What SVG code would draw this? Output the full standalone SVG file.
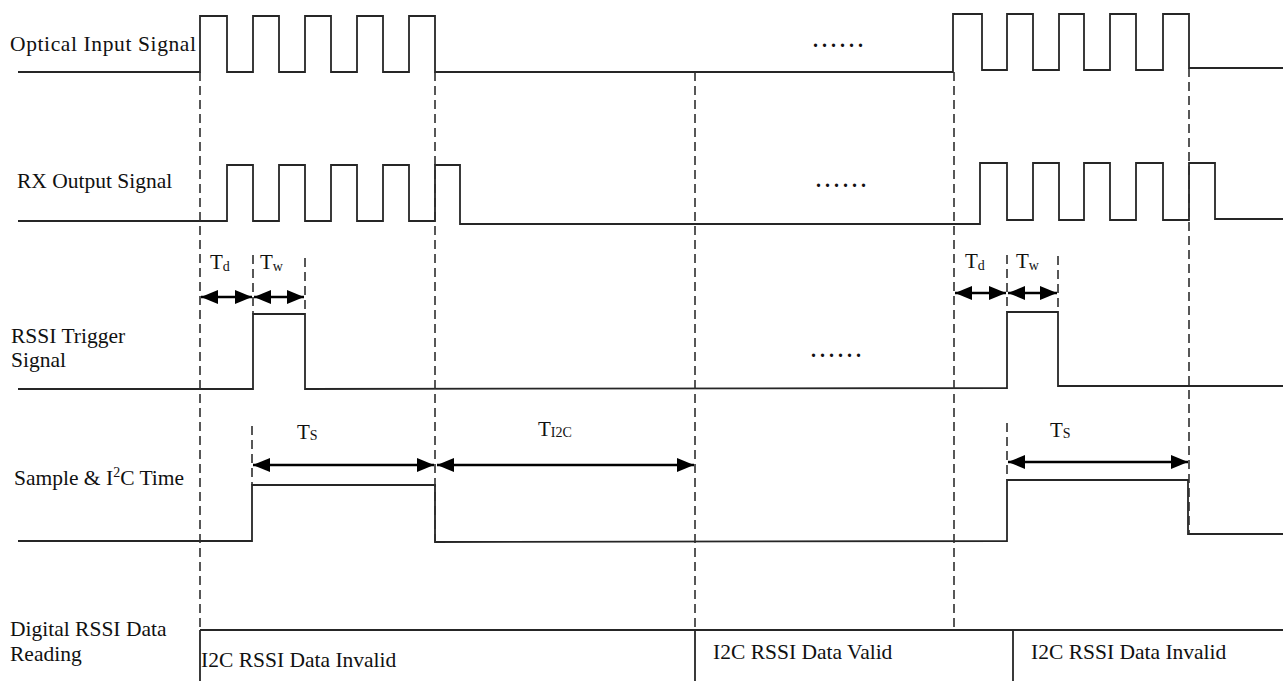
<svg xmlns="http://www.w3.org/2000/svg" width="1283" height="681" viewBox="0 0 1283 681">
<style>
.sig{fill:none;stroke:#262626;stroke-width:1.8;stroke-linejoin:miter}
.dash{fill:none;stroke:#2e2e2e;stroke-width:1.6;stroke-dasharray:9,5}
.arr{fill:none;stroke:#000;stroke-width:2.4}
text{font-family:"Liberation Serif","Times New Roman",serif;fill:#111;font-size:21.5px}
.t{font-size:21px}
.sub{font-size:14px}
.dots{font-size:20px;font-weight:bold}
</style>
<defs>
<marker id="ah" viewBox="0 0 17 14" refX="17" refY="7" markerWidth="17" markerHeight="14" markerUnits="userSpaceOnUse" orient="auto-start-reverse">
<path d="M0,0 L17,7 L0,14 z" fill="#000"/>
</marker>
</defs>
<rect width="1283" height="681" fill="#fff"/>

<g id="optical">
<text x="10" y="51" textLength="186" lengthAdjust="spacing">Optical Input Signal</text>
<path class="sig" d="M18,72 L200,72 L200,16 L227,16 L227,72 L253,72 L253,16 L279,16 L279,72 L305,72 L305,16 L331,16 L331,72 L357,72 L357,16 L383,16 L383,72 L409,72 L409,16 L435,16 L435,72 L953,72 L953,14 L982,14 L982,70 L1007,70 L1007,14 L1033,14 L1033,70 L1059,70 L1059,14 L1084,14 L1084,70 L1110,70 L1110,14 L1136,14 L1136,70 L1163,70 L1163,14 L1189,14 L1189,68 L1283,68"/>
<text class="dots" x="813" y="47" textLength="50" lengthAdjust="spacing">......</text>
</g>

<g id="rx">
<text x="17" y="188">RX Output Signal</text>
<path class="sig" d="M18,221 L227,221 L227,165 L253,165 L253,221 L279,221 L279,165 L305,165 L305,221 L331,221 L331,165 L357,165 L357,221 L383,221 L383,165 L409,165 L409,221 L435,221 L435,165 L460,165 L460,224 L980,224 L980,163 L1007,163 L1007,220 L1033,220 L1033,163 L1059,163 L1059,220 L1084,220 L1084,163 L1110,163 L1110,220 L1136,220 L1136,163 L1163,163 L1163,220 L1189,220 L1189,163 L1215,163 L1215,219 L1283,219"/>
<text class="dots" x="816" y="187" textLength="50" lengthAdjust="spacing">......</text>
</g>

<g id="trigger">
<text x="11" y="343">RSSI Trigger</text>
<text x="11" y="367">Signal</text>
<path class="sig" d="M18,389 L253,389 L253,314 L305,314 L305,389 L1007,388 L1007,312 L1058,312 L1058,386 L1283,386"/>
<text class="dots" x="811" y="357" textLength="50" lengthAdjust="spacing">......</text>
</g>

<g id="sample">
<text x="14" y="485">Sample &amp; I<tspan class="sub" dy="-8">2</tspan><tspan dy="8">C Time</tspan></text>
<path class="sig" d="M18,541 L252,541 L252,485 L435,485 L435,542 L1007,541 L1007,480 L1188,480 L1188,534 L1283,534"/>
</g>

<g id="digital">
<text x="10" y="636">Digital RSSI Data</text>
<text x="10" y="661">Reading</text>
<path class="sig" d="M200,630 L1283,630 M200,630 L200,681 M695,630 L695,681 M1013,630 L1013,681"/>
<text x="201" y="667">I2C RSSI Data Invalid</text>
<text x="713" y="659">I2C RSSI Data Valid</text>
<text x="1031" y="659">I2C RSSI Data Invalid</text>
</g>

<g id="guides">
<path class="dash" d="M200,72 L200,630 M435,72 L435,542 M695,72 L695,630 M954,72 L954,630 M1189,68 L1189,534 M253,255 L253,314 M305,258 L305,314 M252,426 L252,485 M1007,255 L1007,312 M1058,256 L1058,312 M1007,423 L1007,480"/>
</g>

<g id="connectors">
<line class="arr" x1="201" y1="297" x2="252" y2="297" marker-start="url(#ah)" marker-end="url(#ah)"/>
<line class="arr" x1="254" y1="297" x2="304" y2="297" marker-start="url(#ah)" marker-end="url(#ah)"/>
<line class="arr" x1="955" y1="293" x2="1006" y2="293" marker-start="url(#ah)" marker-end="url(#ah)"/>
<line class="arr" x1="1008" y1="293" x2="1057" y2="293" marker-start="url(#ah)" marker-end="url(#ah)"/>
<line class="arr" x1="253" y1="465" x2="434" y2="465" marker-start="url(#ah)" marker-end="url(#ah)"/>
<line class="arr" x1="437" y1="465" x2="694" y2="465" marker-start="url(#ah)" marker-end="url(#ah)"/>
<line class="arr" x1="1008" y1="462" x2="1188" y2="462" marker-start="url(#ah)" marker-end="url(#ah)"/>
</g>

<g id="labels">
<text class="t" x="210" y="269">T<tspan class="sub" dy="2">d</tspan></text>
<text class="t" x="260" y="269">T<tspan class="sub" dy="2">w</tspan></text>
<text class="t" x="965" y="268">T<tspan class="sub" dy="2">d</tspan></text>
<text class="t" x="1016" y="268">T<tspan class="sub" dy="2">w</tspan></text>
<text class="t" x="297" y="439">T<tspan class="sub" dy="1">S</tspan></text>
<text class="t" x="538" y="436">T<tspan class="sub" dy="1">I2C</tspan></text>
<text class="t" x="1050" y="437">T<tspan class="sub" dy="1">S</tspan></text>
</g>
</svg>
